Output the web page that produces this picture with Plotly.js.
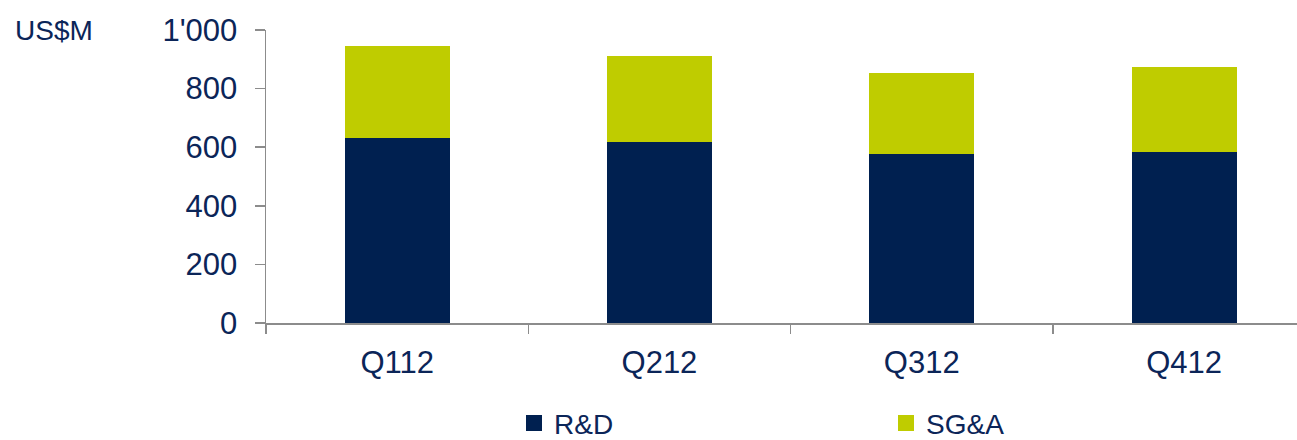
<!DOCTYPE html>
<html>
<head>
<meta charset="utf-8">
<script src="https://cdn.plot.ly/plotly-3.0.1.min.js"></script>
<style>html,body{margin:0;padding:0;background:#fff;}#chart{width:1297px;height:440px;}</style>
</head>
<body>
<div id="chart"></div>
<script>
const quarters = ["Q112", "Q212", "Q312", "Q412"];
const rdValues = [633, 617, 578, 584];
const sgaValues = [312, 293, 275, 291];
const yTickVals = [0, 200, 400, 600, 800, 1000];
const yTickText = ["0", "200", "400", "600", "800", "1'000"];
const seriesNames = ["R&D", "SG&A"];

const navy = "#002050";
const lime = "#BFCC00";
const textColor = "#0B2558";
const axisGray = "#8C8C8C";
const fontFam = "Liberation Sans, Arial, sans-serif";

const traces = [
  {type: "bar", x: quarters, y: rdValues, name: seriesNames[0], marker: {color: navy}, showlegend: false, hoverinfo: "x+y+name"},
  {type: "bar", x: quarters, y: sgaValues, name: seriesNames[1], marker: {color: lime}, showlegend: false, hoverinfo: "x+y+name"},
  {type: "scatter", mode: "markers", x: [null], y: [null], name: seriesNames[0], marker: {symbol: "square", size: 16, color: navy}},
  {type: "scatter", mode: "markers", x: [null], y: [null], name: seriesNames[1], marker: {symbol: "square", size: 16, color: lime}}
];

const plotL = 266, plotT = 30, plotB = 116.5, W = 1297, H = 440;
const plotW = W - plotL;
const catW = 262.3;

const layout = {
  width: W, height: H,
  margin: {l: plotL, r: 0, t: plotT, b: plotB, pad: 0, autoexpand: false},
  paper_bgcolor: "#fff", plot_bgcolor: "#fff",
  barmode: "stack",
  bargap: 0.6,
  font: {family: fontFam, color: textColor, size: 31},
  xaxis: {
    type: "category",
    range: [-0.5, -0.5 + plotW / catW],
    showline: true, linecolor: axisGray, linewidth: 1.5,
    ticks: "outside", tickson: "boundaries", ticklen: 9, tickcolor: axisGray, tickwidth: 1.5,
    showgrid: false, zeroline: false,
    tickfont: {size: 31, color: textColor},
    ticklabelstandoff: 11
  },
  yaxis: {
    range: [0, 1000],
    tickvals: yTickVals, ticktext: yTickText,
    showline: true, linecolor: axisGray, linewidth: 1.5,
    ticks: "outside", ticklen: 10, tickcolor: axisGray, tickwidth: 1.5,
    showgrid: false, zeroline: false,
    tickfont: {size: 31, color: textColor},
    ticklabelstandoff: 11
  },
  showlegend: true,
  legend: {
    orientation: "h",
    traceorder: "normal",
    x: (514 - plotL) / plotW, xanchor: "left",
    y: -(449 - (H - plotB)) / (H - plotT - plotB), yanchor: "bottom",
    font: {size: 28, color: textColor},
    entrywidth: 327, entrywidthmode: "pixels",
    bgcolor: "rgba(0,0,0,0)"
  },
  annotations: [{
    text: "US$M", xref: "paper", yref: "paper",
    x: (13 - plotL) / plotW, xanchor: "left",
    y: 1, yanchor: "middle",
    showarrow: false, font: {size: 28, color: textColor}
  }]
};

Plotly.newPlot("chart", traces, layout, {displayModeBar: false, staticPlot: true});
</script>
</body>
</html>
